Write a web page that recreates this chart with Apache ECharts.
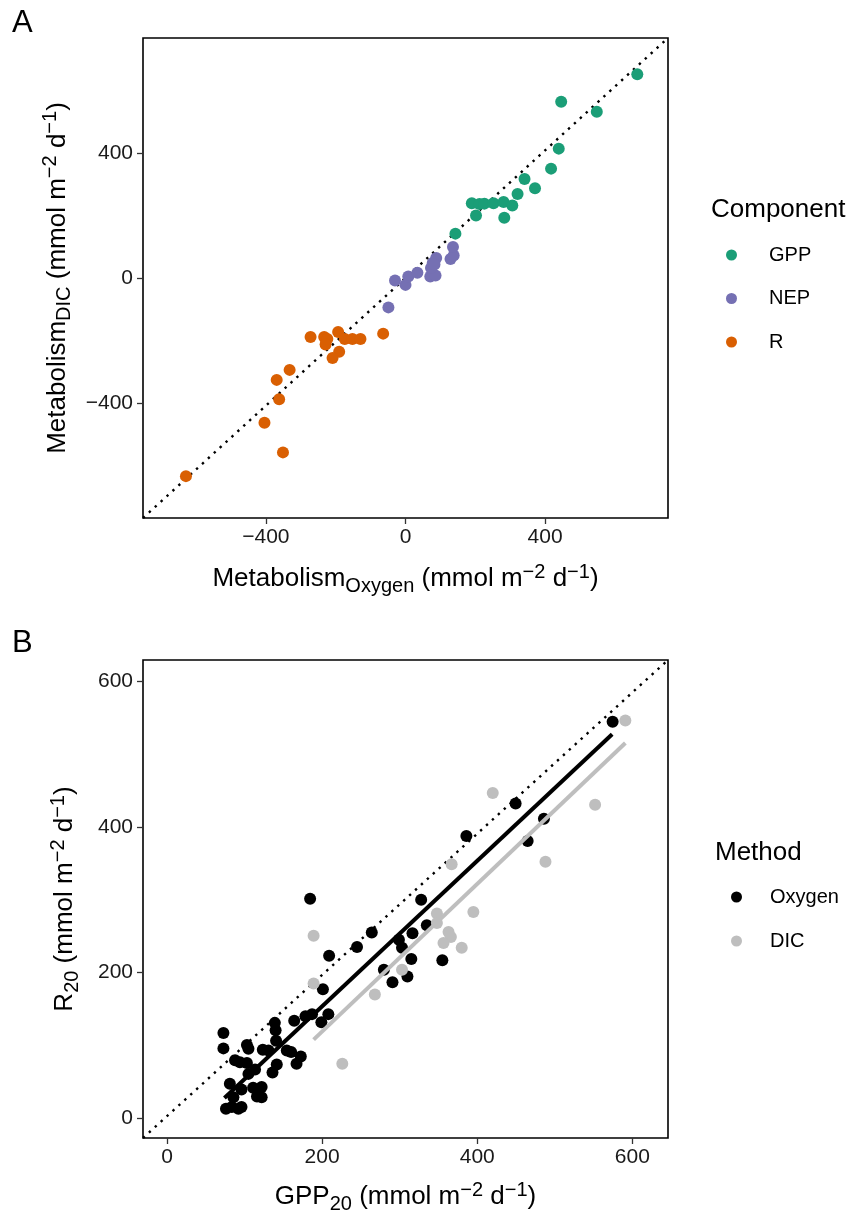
<!DOCTYPE html>
<html>
<head>
<meta charset="utf-8">
<script src="https://cdn.jsdelivr.net/npm/echarts@6/dist/echarts.min.js"></script>
<style>
  html, body { margin: 0; padding: 0; background: #fff; }
  #main { width: 859px; height: 1216px; }
</style>
</head>
<body>
<div id="main"></div>
<script>
// panel A: metabolism, oxygen vs DIC
var gppOxygen = [143, 202, 190, 212, 226, 252, 281, 306, 283, 321, 341, 371, 417, 439, 446, 548, 664];
var gppDIC    = [144, 202, 241, 239, 240, 241, 245, 234, 195, 271, 319, 289, 352, 416, 566, 534, 654];
var nepOxygen = [-49, -30, 0, 8, 34, 71, 86, 73, 78, 88, 83, 129, 138, 136];
var nepDIC    = [-92, -6, -20, 7, 19, 7, 10, 34, 50, 66, 45, 63, 74, 101];
var rOxygen   = [-629, -351, -404, -362, -369, -332, -272, -233, -224, -229, -193, -174, -152, -129, -190, -209, -64];
var rDIC      = [-632, -556, -461, -386, -324, -292, -187, -187, -193, -211, -171, -193, -193, -193, -234, -254, -176];
var ticksA = [-400, 0, 400];
var limitsAx = [-752, 752];
var limitsAy = [-766, 770];

// panel B: GPP20 vs R20
var gpp20Oxygen = [184.5, 209, 245, 264, 201, 164, 178.5, 187, 199, 208, 139, 140, 140.6, 72.7, 72.7, 103, 105, 123.5, 130.8, 154.4,
  160, 172.5, 167, 87.7, 94, 103, 113.5, 105, 141.5, 136, 81, 96, 111, 122, 116, 122, 85.6, 76, 83.5, 92,
  96, 574.6, 449.5, 486, 465, 386, 327.7, 335, 316.5, 299, 303, 315, 355, 279.6, 290.7, 310];
var r20Oxygen = [301.5, 223, 235, 255, 177, 134, 140, 143, 132, 143, 131, 121, 106.6, 117, 96, 100.6, 95.6, 94, 93, 93,
  91, 85, 75, 79.6, 77, 76, 67, 61, 74, 63, 47.6, 39.4, 42, 43, 30, 29, 29, 13, 15.5, 13,
  15.5, 544.4, 432, 411, 380.6, 387.5, 300, 265, 254, 245, 234, 218.6, 217, 204, 186.7, 194.5];
var gpp20DIC = [591, 420, 552, 488, 367, 395, 348, 348, 363, 366, 356.5, 380, 303, 189, 189, 268, 226];
var r20DIC   = [546, 446.5, 430.5, 352, 348.6, 283, 281, 268, 255.7, 249, 240.6, 234, 204, 250.7, 185, 170, 75];
// fitted lines, end points
var fitOxygen = [[74, 28], [574, 527]];
var fitDIC = [[189, 108], [591, 515]];
var ticksB = [0, 200, 400, 600];
var limitsBx = [-31, 646];
var limitsBy = [-27, 629];

var FONT = 'Liberation Sans, Arial, Helvetica, sans-serif';

function pairs(xs, ys) {
  return xs.map(function (x, i) { return [x, ys[i]]; });
}

// dotted reference line runs corner to corner of the panel
function diagonal(lx, ly) {
  return [[lx[0], ly[0]], [lx[1], ly[1]]];
}

var nameRich = {
  sub: { fontSize: 20, lineHeight: 20, verticalAlign: 'bottom', fontFamily: FONT, color: '#000' },
  sup: { fontSize: 20, lineHeight: 6, verticalAlign: 'top', fontFamily: FONT, color: '#000' }
};

function valueAxis(grid, lim, ticks, name, gap, isY) {
  return {
    type: 'value', gridIndex: grid, min: lim[0], max: lim[1],
    name: name, nameLocation: 'middle', nameGap: gap,
    nameTextStyle: { fontSize: 26, lineHeight: 34, color: '#000', fontFamily: FONT, rich: nameRich },
    axisLine: { show: false, onZero: false },
    axisTick: { show: true, length: 6, customValues: ticks, lineStyle: { color: '#333', width: 1.3 } },
    axisLabel: {
      customValues: ticks, margin: isY ? 10 : 9, fontSize: 21, color: '#1a1a1a', fontFamily: FONT,
      formatter: function (v) { return String(v).replace('-', '\u2212'); }
    },
    splitLine: { show: false }
  };
}

function dots(name, grid, data, color) {
  return {
    name: name, type: 'scatter', xAxisIndex: grid, yAxisIndex: grid,
    data: data, symbolSize: 12, itemStyle: { color: color, opacity: 1 },
    emphasis: { disabled: true }, z: 3
  };
}

function line(name, grid, data, style, z) {
  return {
    name: name, type: 'line', xAxisIndex: grid, yAxisIndex: grid,
    data: data, showSymbol: false, clip: true, lineStyle: style,
    emphasis: { disabled: true }, z: z
  };
}

var dotted = { color: '#000', width: 2.4, type: [2.4, 5.6] };

var chart = echarts.init(document.getElementById('main'), null, { renderer: 'canvas' });

chart.setOption({
  animation: false,
  backgroundColor: '#fff',
  textStyle: { fontFamily: FONT },
  grid: [
    { left: 143, top: 38, width: 525, height: 480, show: true, borderColor: '#000', borderWidth: 1.6 },
    { left: 143, top: 660, width: 525, height: 478, show: true, borderColor: '#000', borderWidth: 1.6 }
  ],
  xAxis: [
    valueAxis(0, limitsAx, ticksA, 'Metabolism{sub|Oxygen} (mmol m{sup|\u22122} d{sup|\u22121})', 44, false),
    valueAxis(1, limitsBx, ticksB, 'GPP{sub|20} (mmol m{sup|\u22122} d{sup|\u22121})', 42, false)
  ],
  yAxis: [
    valueAxis(0, limitsAy, ticksA, 'Metabolism{sub|DIC} (mmol m{sup|\u22122} d{sup|\u22121})', 61, true),
    valueAxis(1, limitsBy, ticksB, 'R{sub|20} (mmol m{sup|\u22122} d{sup|\u22121})', 61, true)
  ],
  legend: [
    {
      data: ['GPP', 'NEP', 'R'], orient: 'vertical', left: 721, top: 240,
      icon: 'circle', itemWidth: 11, itemHeight: 11, itemGap: 23.5,
      selectedMode: false,
      textStyle: { fontSize: 20, lineHeight: 20, color: '#000', fontFamily: FONT, padding: [0, 0, 0, 27] }
    },
    {
      data: ['Oxygen', 'DIC'], orient: 'vertical', left: 726, top: 882,
      icon: 'circle', itemWidth: 11, itemHeight: 11, itemGap: 24,
      selectedMode: false,
      textStyle: { fontSize: 20, lineHeight: 20, color: '#000', fontFamily: FONT, padding: [0, 0, 0, 23] }
    }
  ],
  graphic: [
    { type: 'text', left: 12, top: 8, style: { text: 'A', fontSize: 31, fill: '#000', fontFamily: FONT } },
    { type: 'text', left: 12, top: 628, style: { text: 'B', fontSize: 31, fill: '#000', fontFamily: FONT } },
    { type: 'text', left: 711, top: 197, style: { text: 'Component', fontSize: 26, fill: '#000', fontFamily: FONT } },
    { type: 'text', left: 715, top: 840, style: { text: 'Method', fontSize: 26, fill: '#000', fontFamily: FONT } }
  ],
  series: [
    line('1:1 A', 0, diagonal(limitsAx, limitsAy), dotted, 2),
    dots('GPP', 0, pairs(gppOxygen, gppDIC), '#1B9E77'),
    dots('NEP', 0, pairs(nepOxygen, nepDIC), '#7570B3'),
    dots('R', 0, pairs(rOxygen, rDIC), '#D95F02'),

    line('1:1 B', 1, diagonal(limitsBx, limitsBy), dotted, 2),
    dots('Oxygen', 1, pairs(gpp20Oxygen, r20Oxygen), '#000000'),
    dots('DIC', 1, pairs(gpp20DIC, r20DIC), '#BEBEBE'),
    line('fit Oxygen', 1, fitOxygen, { color: '#000', width: 4 }, 4),
    line('fit DIC', 1, fitDIC, { color: '#BEBEBE', width: 4 }, 4)
  ]
});
</script>
</body>
</html>
